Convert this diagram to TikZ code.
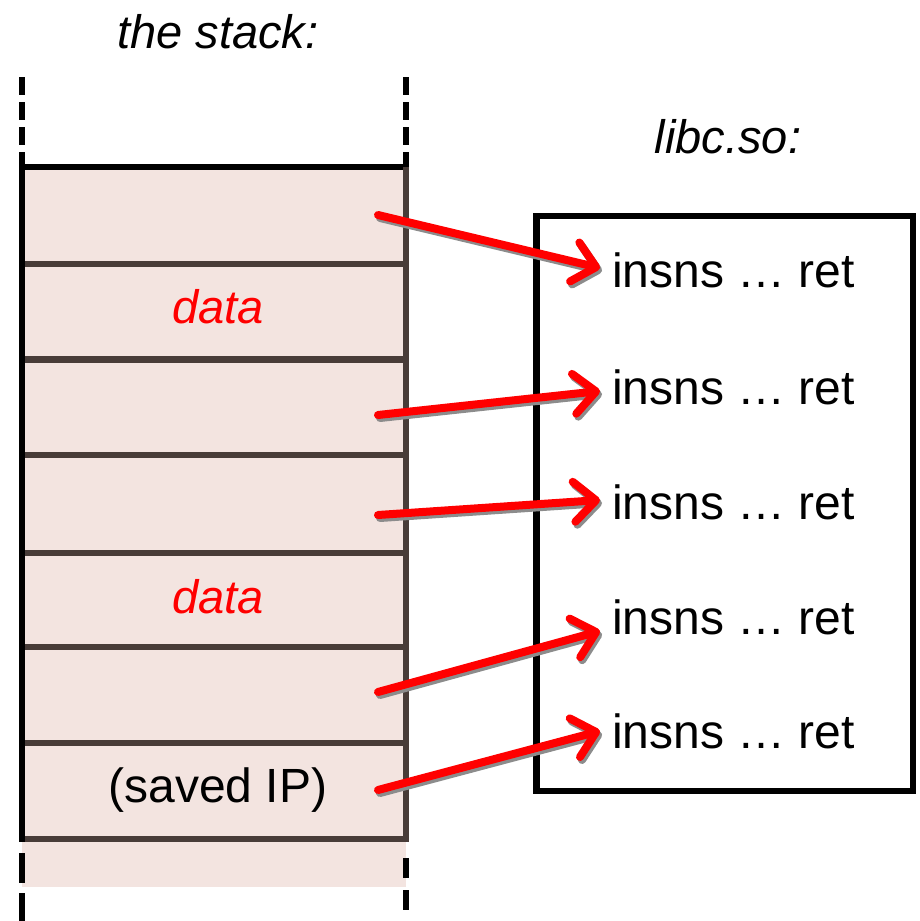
\documentclass[tikz,border=0pt]{standalone}
\usepackage{fontspec}
\setmainfont{Liberation Sans}
\usetikzlibrary{arrows.meta}
\definecolor{slotfill}{RGB}{243,228,224}
\definecolor{slotline}{RGB}{72,60,56}
\definecolor{ptrred}{RGB}{255,0,0}
\definecolor{shadowgray}{RGB}{140,140,140}
\begin{document}
\begin{tikzpicture}[x=1pt,y=-1pt,
  big/.style={font=\fontsize{48}{56}\selectfont},
  bigit/.style={font=\fontsize{47}{56}\selectfont\itshape},
  txt/.style={big, inner sep=0pt},
  gadget/.style={big, inner xsep=12pt, inner ysep=0pt, anchor=west},
  stackedge/.style={line width=6.5pt, black},
  slotrule/.style={line width=6.5pt, slotline},
  dashedge/.style={line width=6.5pt, black, dash pattern=on 18pt off 7pt},
  ptr/.style={line width=8pt, ptrred, line cap=round, line join=round,
    -{Straight Barb[length=22pt, width=40pt, line cap=round, line join=round]}},
  ptrshadow/.style={ptr, draw=shadowgray}
]
\useasboundingbox (0,0) rectangle (919,921);

% stack body
\fill[slotfill] (22,167) rectangle (406,887);
\foreach \y in {264,359.5,455,553,647,743,839}
  \draw[slotrule] (22,\y) -- (406,\y);
\draw[stackedge] (22,167) -- (406,167);
\draw[stackedge] (22,167) -- (22,842);
\draw[line width=6pt, slotline] (406,167) -- (406,842);

% dashed continuation above and below
\draw[dashedge] (22,77) -- (22,167);
\draw[dashedge] (406,77) -- (406,167);
\draw[line width=6.5pt, black, dash pattern=on 30pt off 10pt] (22,853) -- (22,921);
\draw[line width=6.5pt, black, dash pattern=on 20pt off 12pt] (406,858) -- (406,921);

% labels
\node[txt, bigit] (stacklbl) at (218,32) {the stack:};
\node[txt, bigit] (libclbl) at (728,137) {libc.so:};
\node[txt, bigit, text=ptrred] (data1) at (218,307) {data};
\node[txt, bigit, text=ptrred] (data2) at (218,597) {data};
\node[txt] (saved) at (218,790) {(saved IP)};

% libc box
\draw[line width=6.5pt, black] (536.5,216) rectangle (913,791);
\node[gadget] (i1) at (600,270) {insns … ret};
\node[gadget] (i2) at (600,387) {insns … ret};
\node[gadget] (i3) at (600,502) {insns … ret};
\node[gadget] (i4) at (600,617) {insns … ret};
\node[gadget] (i5) at (600,731) {insns … ret};

% return addresses stored in the stack slots
\coordinate (s1) at (378,215);
\coordinate (s2) at (378,415);
\coordinate (s3) at (378,515);
\coordinate (s4) at (378,692);
\coordinate (s5) at (378,790);

\begin{scope}[transform canvas={xshift=2pt, yshift=-3pt}]
  \draw[ptrshadow] (s1) -- ([yshift=2pt]i1.west);
  \draw[ptrshadow] (s2) -- ([yshift=-4pt]i2.west);
  \draw[ptrshadow] (s3) -- ([yshift=2pt]i3.west);
  \draw[ptrshadow] (s4) -- ([yshift=-14pt]i4.west);
  \draw[ptrshadow] (s5) -- (i5.west);
\end{scope}
\draw[ptr] (s1) -- ([yshift=2pt]i1.west);
\draw[ptr] (s2) -- ([yshift=-4pt]i2.west);
\draw[ptr] (s3) -- ([yshift=2pt]i3.west);
\draw[ptr] (s4) -- ([yshift=-14pt]i4.west);
\draw[ptr] (s5) -- (i5.west);
\end{tikzpicture}
\end{document}
